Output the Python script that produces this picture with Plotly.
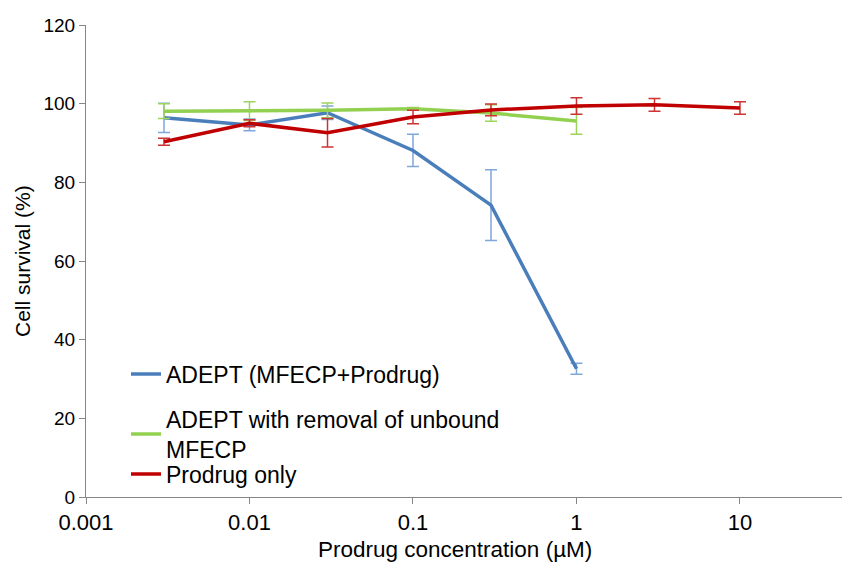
import plotly.graph_objects as go

conc = [0.003, 0.01, 0.03, 0.1, 0.3, 1, 3, 10]

adept_x = [0.003, 0.01, 0.03, 0.1, 0.3, 1]
adept_y = [96.4, 94.6, 97.7, 88.1, 74.2, 32.6]
adept_err = [3.7, 1.5, 1.7, 4.1, 9.0, 1.4]

removal_x = [0.003, 0.01, 0.03, 0.1, 0.3, 1]
removal_y = [98.1, 98.1, 98.3, 98.7, 97.6, 95.6]
removal_err = [1.9, 2.4, 1.9, 0.3, 2.1, 3.4]

prodrug_x = conc
prodrug_y = [90.3, 95.0, 92.6, 96.6, 98.4, 99.4, 99.7, 98.9]
prodrug_err = [0.9, 0.9, 3.6, 1.7, 1.5, 2.1, 1.6, 1.6]

x_tickvals = [0.001, 0.01, 0.1, 1, 10]
x_ticktext = ["0.001", "0.01", "0.1", "1", "10"]
y_tickvals = [0, 20, 40, 60, 80, 100, 120]

FONT = "Liberation Sans, Arial, sans-serif"

fig = go.Figure()

def add(xs, ys, err, name, color, ecolor, legend):
    fig.add_trace(go.Scatter(
        x=xs, y=ys, mode="lines", name=name,
        line=dict(color=color, width=3.5),
        error_y=dict(type="data", array=err, visible=True, color=ecolor,
                     thickness=1.5, width=6),
        legend=legend,
    ))

add(adept_x, adept_y, adept_err, "ADEPT (MFECP+Prodrug)", "#4A7EBB", "#7FA7DA", "legend")
add(removal_x, removal_y, removal_err, "ADEPT with removal of unbound<br>MFECP", "#92D050", "#9ED45E", "legend2")
add(prodrug_x, prodrug_y, prodrug_err, "Prodrug only", "#C00000", "#CC3333", "legend3")

L = 86
W = 842 - L
T = 25
B = 70
H = 567 - T - B

def px_x(px):
    return (px - L) / W

def px_y(py):
    return (567 - B - py) / H

leg_common = dict(bgcolor="rgba(0,0,0,0)", font=dict(family=FONT, size=23, color="#000"),
                  xanchor="left", yanchor="middle", itemwidth=30, borderwidth=0)

fig.update_layout(
    width=842, height=567,
    margin=dict(l=L, r=0, t=T, b=B),
    paper_bgcolor="white", plot_bgcolor="white",
    font=dict(family=FONT, size=18, color="#000"),
    showlegend=True,
    legend=dict(x=px_x(126), y=px_y(374), **leg_common),
    legend2=dict(x=px_x(126), y=px_y(434), **leg_common),
    legend3=dict(x=px_x(126), y=px_y(474), **leg_common),
    xaxis=dict(type="log", range=[-3, 1.624], tickvals=x_tickvals, ticktext=x_ticktext,
               showgrid=False, zeroline=False, showline=True, linecolor="#868686", linewidth=1,
               ticks="outside", ticklen=6, tickcolor="#868686",
               tickfont=dict(family=FONT, size=22, color="#000")),
    yaxis=dict(range=[0, 120], tickvals=y_tickvals, showgrid=False, zeroline=False,
               showline=True, linecolor="#868686", linewidth=1,
               ticks="outside", ticklen=6, tickcolor="#868686",
               tickfont=dict(family=FONT, size=19, color="#000")),
    annotations=[
        dict(text="Prodrug concentration (µM)", xref="paper", yref="paper",
             x=px_x(455), y=px_y(549), xanchor="center", yanchor="middle",
             showarrow=False, font=dict(family=FONT, size=22.5, color="#000")),
        dict(text="Cell survival (%)", xref="paper", yref="paper",
             x=px_x(22), y=px_y(261), xanchor="center", yanchor="middle", textangle=-90,
             showarrow=False, font=dict(family=FONT, size=21, color="#000")),
    ],
)

fig.write_html("out.html")
